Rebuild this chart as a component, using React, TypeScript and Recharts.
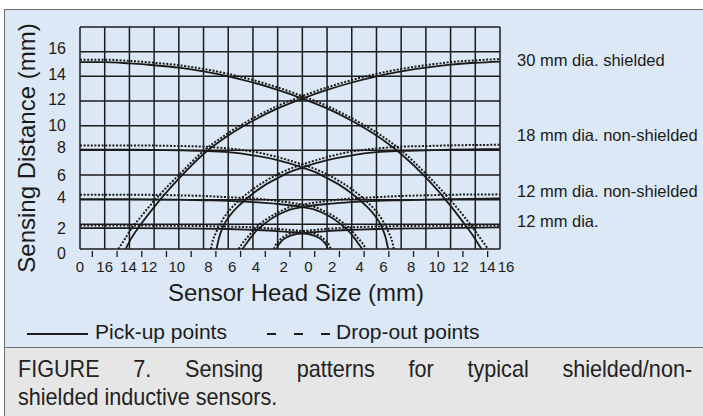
import React from 'react';
import { LineChart, Line, XAxis, YAxis, CartesianGrid } from 'recharts';

const FONT = '"Liberation Sans", Arial, Helvetica, sans-serif';
const INK = '#1b1b1b';

// grid columns in mm either side of the sensor centre (left edge is printed "0" in the original)
const xGrid = [-18, -16, -14, -12, -10, -8, -6, -4, -2, 0, 2, 4, 6, 8, 10, 12, 14, 16];
const xLabels = ['0', '16', '14', '12', '10', '8', '6', '4', '2', '0', '2', '4', '6', '8', '10', '12', '14', '16'];
const xMinor = [-17, -15, -13, -11, -9, -7, -5, -3, -1, 1, 3, 5, 7, 9, 11, 13, 15];
const yGrid = [0, 2, 4, 6, 8, 10, 12, 14, 16, 18];
const yTicks = [0, 2, 4, 6, 8, 10, 12, 14, 16];

// the printed tick labels sit a little off their grid lines in the original
const xLabelNudge = [0, 0, -1, -5, -2, 5, 4, 3, 6, 6, 5, 8, 7, 10, 11, 10, 12, 6];
const yLabelNudge = [4, 4, -2, 0, -3, 0, -2, -2, -3];

type Pt = [number, number];

// 30 mm dia. shielded
const pick30L: Pt[] = [[-18, 15.15], [-16, 15.15], [-14, 15.05], [-12, 14.9], [-10, 14.7], [-8, 14.4], [-6, 14.0], [-4, 13.5], [-2, 12.9], [0, 12.2], [2, 11.4], [4, 10.4], [6, 9.2], [8, 7.7], [10, 5.8], [12, 3.5], [13, 2.2], [14, 0.8], [14.5, 0]];
const drop30L: Pt[] = [[-18, 15.35], [-16, 15.35], [-14, 15.25], [-12, 15.1], [-10, 14.9], [-8, 14.6], [-6, 14.2], [-4, 13.7], [-2, 13.1], [0, 12.4], [2, 11.6], [4, 10.6], [6, 9.45], [8, 8.0], [10, 6.1], [12, 3.95], [13, 2.75], [14, 1.45], [14.6, 0.6], [15.05, 0]];
const pick30R: Pt[] = [[-14.3, 0], [-14, 0.6], [-13, 2.1], [-12, 3.4], [-10, 5.7], [-8, 7.7], [-6, 9.2], [-4, 10.4], [-2, 11.4], [0, 12.2], [2, 12.9], [4, 13.5], [6, 14.0], [8, 14.4], [10, 14.7], [12, 14.95], [14, 15.1], [16, 15.2]];
const drop30R: Pt[] = [[-14.9, 0], [-14.5, 0.6], [-14, 1.4], [-13, 2.7], [-12, 3.9], [-10, 6.0], [-8, 7.95], [-6, 9.4], [-4, 10.6], [-2, 11.6], [0, 12.4], [2, 13.1], [4, 13.7], [6, 14.2], [8, 14.6], [10, 14.9], [12, 15.15], [14, 15.3], [16, 15.4]];

// 18 mm dia. non-shielded
const pick18L: Pt[] = [[-18, 8.05], [-14, 8.05], [-10, 8.0], [-8, 7.95], [-6, 7.85], [-4, 7.6], [-2, 7.2], [0, 6.6], [1, 6.25], [2, 5.75], [3, 5.2], [4, 4.5], [5, 3.65], [5.8, 2.8], [6.4, 1.85], [6.75, 0.9], [6.95, 0]];
const drop18L: Pt[] = [[-18, 8.4], [-14, 8.4], [-10, 8.35], [-8, 8.3], [-6, 8.15], [-4, 7.9], [-2, 7.45], [0, 6.85], [1, 6.5], [2, 6.05], [3, 5.5], [4, 4.85], [5, 4.05], [5.8, 3.25], [6.5, 2.3], [7.0, 1.3], [7.3, 0.5], [7.4, 0]];
const pick18R: Pt[] = [[-6.95, 0], [-6.75, 0.9], [-6.4, 1.85], [-5.8, 2.8], [-5, 3.65], [-4, 4.5], [-3, 5.2], [-2, 5.75], [-1, 6.25], [0, 6.6], [2, 7.2], [4, 7.6], [6, 7.85], [8, 7.95], [10, 8.0], [12, 8.05], [16, 8.1]];
const drop18R: Pt[] = [[-7.4, 0], [-7.3, 0.5], [-7.0, 1.3], [-6.5, 2.3], [-5.8, 3.25], [-5, 4.05], [-4, 4.85], [-3, 5.5], [-2, 6.05], [-1, 6.5], [0, 6.85], [2, 7.45], [4, 7.9], [6, 8.15], [8, 8.3], [10, 8.35], [12, 8.4], [16, 8.45]];

// 12 mm dia. non-shielded
const pick12nL: Pt[] = [[-18, 4.05], [-14, 4.05], [-10, 4.0], [-8, 3.95], [-6, 3.9], [-4, 3.8], [-2, 3.65], [0, 3.4], [1, 3.2], [2, 2.75], [3, 2.1], [3.7, 1.5], [4.2, 0.9], [4.6, 0.35], [4.85, 0]];
const drop12nL: Pt[] = [[-18, 4.4], [-14, 4.4], [-10, 4.35], [-8, 4.3], [-6, 4.2], [-4, 4.1], [-2, 3.9], [0, 3.6], [1, 3.4], [2, 2.95], [3, 2.35], [3.8, 1.7], [4.4, 1.0], [4.9, 0.4], [5.15, 0]];
const pick12nR: Pt[] = [[-4.85, 0], [-4.6, 0.35], [-4.2, 0.9], [-3.7, 1.5], [-3, 2.1], [-2, 2.75], [-1, 3.2], [0, 3.4], [2, 3.65], [4, 3.8], [6, 3.9], [8, 3.95], [10, 4.0], [12, 4.05], [16, 4.1]];
const drop12nR: Pt[] = [[-5.15, 0], [-4.9, 0.4], [-4.4, 1.0], [-3.8, 1.7], [-3, 2.35], [-2, 2.95], [-1, 3.4], [0, 3.6], [2, 3.9], [4, 4.1], [6, 4.2], [8, 4.3], [10, 4.35], [12, 4.4], [16, 4.43]];

// 12 mm dia. (shielded)
const pick12L: Pt[] = [[-18, 1.7], [-14, 1.7], [-10, 1.68], [-6, 1.62], [-4, 1.55], [-2, 1.45], [-1, 1.37], [0, 1.27], [0.5, 1.2], [1, 1.07], [1.5, 0.8], [1.8, 0.5], [2.0, 0.2], [2.05, 0]];
const drop12L: Pt[] = [[-18, 1.9], [-14, 1.9], [-10, 1.88], [-6, 1.82], [-4, 1.75], [-2, 1.63], [-1, 1.55], [0, 1.45], [0.5, 1.38], [1, 1.25], [1.5, 1.0], [1.9, 0.65], [2.2, 0.25], [2.3, 0]];
const pick12R: Pt[] = [[-2.05, 0], [-2.0, 0.2], [-1.8, 0.5], [-1.5, 0.8], [-1, 1.07], [-0.5, 1.2], [0, 1.27], [1, 1.37], [2, 1.45], [4, 1.55], [6, 1.62], [10, 1.68], [16, 1.75]];
const drop12R: Pt[] = [[-2.3, 0], [-2.2, 0.25], [-1.9, 0.65], [-1.5, 1.0], [-1, 1.25], [-0.5, 1.38], [0, 1.45], [1, 1.55], [2, 1.63], [4, 1.75], [6, 1.82], [10, 1.88], [16, 1.9]];

const curves: { id: string; pts: Pt[]; dashed: boolean }[] = [
  { id: 'p30l', pts: pick30L, dashed: false },
  { id: 'd30l', pts: drop30L, dashed: true },
  { id: 'p30r', pts: pick30R, dashed: false },
  { id: 'd30r', pts: drop30R, dashed: true },
  { id: 'p18l', pts: pick18L, dashed: false },
  { id: 'd18l', pts: drop18L, dashed: true },
  { id: 'p18r', pts: pick18R, dashed: false },
  { id: 'd18r', pts: drop18R, dashed: true },
  { id: 'p12nl', pts: pick12nL, dashed: false },
  { id: 'd12nl', pts: drop12nL, dashed: true },
  { id: 'p12nr', pts: pick12nR, dashed: false },
  { id: 'd12nr', pts: drop12nR, dashed: true },
  { id: 'p12l', pts: pick12L, dashed: false },
  { id: 'd12l', pts: drop12L, dashed: true },
  { id: 'p12r', pts: pick12R, dashed: false },
  { id: 'd12r', pts: drop12R, dashed: true },
];

const allXTicks = [...xGrid, ...xMinor].sort((a, b) => a - b);

function XTick(props: any) {
  const { x, y, payload } = props;
  const i = xGrid.indexOf(payload.value);
  if (i < 0) {
    return <line x1={x} x2={x} y1={y - 10} y2={y - 4} stroke={INK} strokeWidth={1.3} />;
  }
  return (
    <text x={x + xLabelNudge[i]} y={y} dy="0.71em" textAnchor="middle" fontSize={15} fill={INK} fontFamily={FONT}>
      {xLabels[i]}
    </text>
  );
}

function YTick(props: any) {
  const { x, y, payload } = props;
  const i = yTicks.indexOf(payload.value);
  return (
    <text x={x} y={y + (yLabelNudge[i] || 0)} dy="0.355em" textAnchor="end" fontSize={16} fill={INK} fontFamily={FONT}>
      {payload.value}
    </text>
  );
}

export default function App() {
  return (
    <div style={{ position: 'absolute', left: 0, top: 0, width: 703, height: 416, background: '#fff', overflow: 'hidden', fontFamily: FONT }}>
      <div style={{ position: 'absolute', left: 4, top: 9, width: 699, height: 337, background: '#dce8f5', borderTop: '1.5px solid #6f6f6f', borderLeft: '1.5px solid #6f6f6f', borderBottom: '1.5px solid #6f6f6f' }} />
      <div style={{ position: 'absolute', left: 4, top: 348, width: 699, height: 68, background: '#e6e6e6', borderLeft: '1.5px solid #6f6f6f' }} />

      <LineChart width={703} height={345} margin={{ top: 27, right: 203, bottom: 66, left: 40 }} style={{ position: 'absolute', left: 0, top: 0 }}>
        <CartesianGrid stroke={INK} strokeWidth={1.5} horizontalValues={yGrid} verticalValues={xGrid} />
        <XAxis type="number" dataKey="x" domain={[-18, 16]} ticks={allXTicks} interval={0} allowDataOverflow axisLine={false} tickLine={false} tickSize={6} tickMargin={6} height={30} tick={(p: any) => <XTick {...p} />} />
        <YAxis type="number" domain={[0, 18]} ticks={yTicks} interval={0} allowDataOverflow axisLine={false} tickLine={false} tickSize={6} tickMargin={8} width={40} tick={(p: any) => <YTick {...p} />} />
        {curves.map((c) => (
          <Line
            key={c.id}
            data={c.pts.map(([x, y]) => ({ x, y }))}
            dataKey="y"
            type="monotone"
            stroke={INK}
            strokeWidth={c.dashed ? 2 : 1.8}
            strokeDasharray={c.dashed ? '2 1.6' : undefined}
            dot={false}
            activeDot={false}
            isAnimationActive={false}
          />
        ))}
      </LineChart>

      <svg width={703} height={416} style={{ position: 'absolute', left: 0, top: 0, pointerEvents: 'none' }} fontFamily={FONT} fill={INK}>
        <text transform="translate(35,148) rotate(-90)" textAnchor="middle" fontSize={24}>Sensing Distance (mm)</text>
        <text x={296} y={301} textAnchor="middle" fontSize={24}>Sensor Head Size (mm)</text>
        <text x={517} y={66} fontSize={16.5}>30 mm dia. shielded</text>
        <text x={517} y={141} fontSize={16.5}>18 mm dia. non-shielded</text>
        <text x={517} y={197} fontSize={16.5}>12 mm dia. non-shielded</text>
        <text x={517} y={227} fontSize={16.5}>12 mm dia.</text>
        <line x1={27} x2={88} y1={334} y2={334} stroke={INK} strokeWidth={2} />
        <text x={95} y={339} fontSize={21}>Pick-up points</text>
        <line x1={267} x2={331} y1={334} y2={334} stroke={INK} strokeWidth={2} strokeDasharray="9 18" />
        <text x={336} y={339} fontSize={21}>Drop-out points</text>
      </svg>

      {/* caption type is a condensed face in the original: wider box squeezed horizontally */}
      <div style={{ position: 'absolute', left: 18, top: 355, width: 749, fontSize: 24, lineHeight: '28px', color: '#222', transform: 'scaleX(0.9)', transformOrigin: '0 0' }}>
        <div style={{ textAlign: 'justify', textAlignLast: 'justify', whiteSpace: 'nowrap' }}>FIGURE 7. Sensing patterns for typical shielded/non-</div>
        <div>shielded inductive sensors.</div>
      </div>
    </div>
  );
}
